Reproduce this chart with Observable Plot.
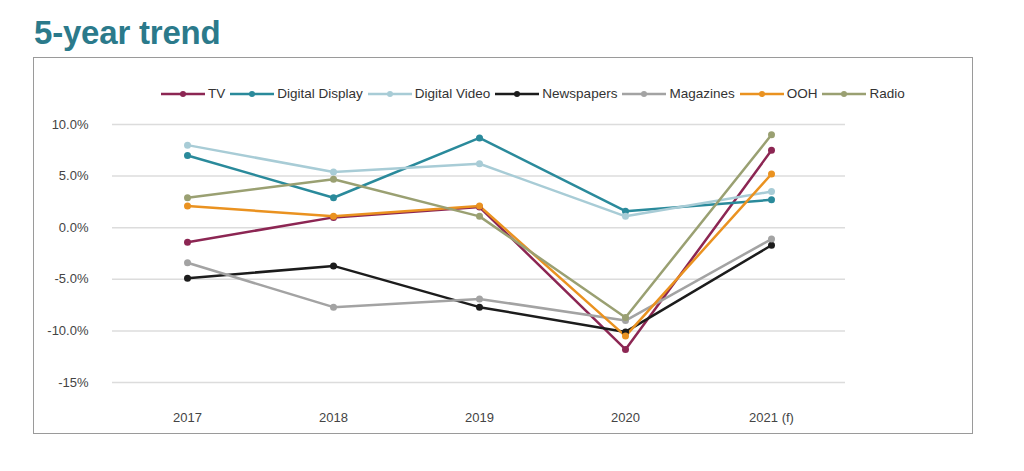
<!DOCTYPE html>
<html>
<head>
<meta charset="utf-8">
<script src="https://cdn.jsdelivr.net/npm/d3@7"></script>
<script src="https://cdn.jsdelivr.net/npm/@observablehq/plot@0.6"></script>
<style>
  html, body { margin: 0; padding: 0; background: #fff; }
  body { width: 1024px; height: 471px; position: relative; overflow: hidden; font-family: "Liberation Sans", Arial, sans-serif; }
  #title { position: absolute; left: 34px; top: 14px; font-size: 33px; font-weight: bold; color: #2b7a8b; letter-spacing: -0.2px; }
  #box { position: absolute; left: 33px; top: 57px; width: 938px; height: 375px; border: 1px solid #9a9a9a; }
  #legend { position: absolute; left: 127px; top: 28px; display: flex; align-items: center; font-size: 13.5px; color: #333; }
  .item { display: flex; align-items: center; margin-right: 5px; }
  .item svg { margin-right: 3px; }
  #chart { position: absolute; left: 0; top: 0; }
</style>
</head>
<body>
<div id="title">5-year trend</div>
<div id="box">
  <div id="chart"></div>
  <div id="legend"></div>
</div>
<script>
const years = ["2017", "2018", "2019", "2020", "2021 (f)"];
const seriesNames = ["TV", "Digital Display", "Digital Video", "Newspapers", "Magazines", "OOH", "Radio"];
const seriesColors = ["#8c2653", "#2a8a9b", "#a8ccd6", "#1c1c1c", "#a3a3a3", "#ea9220", "#9aa072"];
const tv = [-1.4, 1.0, 2.0, -11.8, 7.5];
const digitalDisplay = [7.0, 2.9, 8.7, 1.6, 2.7];
const digitalVideo = [8.0, 5.4, 6.2, 1.1, 3.5];
const newspapers = [-4.9, -3.7, -7.7, -10.1, -1.7];
const magazines = [-3.4, -7.7, -6.9, -9.0, -1.1];
const ooh = [2.1, 1.1, 2.1, -10.5, 5.2];
const radio = [2.9, 4.7, 1.1, -8.7, 9.0];
const yTicks = [10, 5, 0, -5, -10, -15];
const yTickLabels = ["10.0%", "5.0%", "0.0%", "-5.0%", "-10.0%", "-15%"];

const seriesValues = [tv, digitalDisplay, digitalVideo, newspapers, magazines, ooh, radio];
const rows = [];
seriesNames.forEach((name, i) => {
  seriesValues[i].forEach((v, j) => rows.push({series: name, year: years[j], value: v}));
});

const chart = Plot.plot({
  width: 938,
  height: 375,
  marginLeft: 78,
  marginRight: 127,
  marginTop: 66,
  marginBottom: 51,
  style: {fontFamily: "Liberation Sans, Arial, sans-serif", fontSize: "13px", color: "#444", background: "transparent"},
  x: {type: "point", domain: years, padding: 0.5, label: null, tickSize: 0, tickPadding: 30},
  y: {domain: [-15, 10], ticks: yTicks, tickFormat: d => yTickLabels[yTicks.indexOf(d)], label: null, tickSize: 0, tickPadding: 24},
  color: {domain: seriesNames, range: seriesColors},
  marks: [
    Plot.ruleY(yTicks, {stroke: "#dcdcdc", strokeWidth: 1.5}),
    Plot.line(rows, {x: "year", y: "value", z: "series", stroke: "series", strokeWidth: 2.5}),
    Plot.dot(rows, {x: "year", y: "value", fill: "series", r: 3.5})
  ]
});
document.getElementById("chart").appendChild(chart);

const legend = document.getElementById("legend");
seriesNames.forEach((name, i) => {
  const item = document.createElement("div");
  item.className = "item";
  item.innerHTML = `<svg width="44" height="10"><line x1="0" y1="5" x2="44" y2="5" stroke="${seriesColors[i]}" stroke-width="2.5"/><circle cx="22" cy="5" r="3" fill="${seriesColors[i]}"/></svg><span>${name}</span>`;
  legend.appendChild(item);
});
</script>
</body>
</html>
